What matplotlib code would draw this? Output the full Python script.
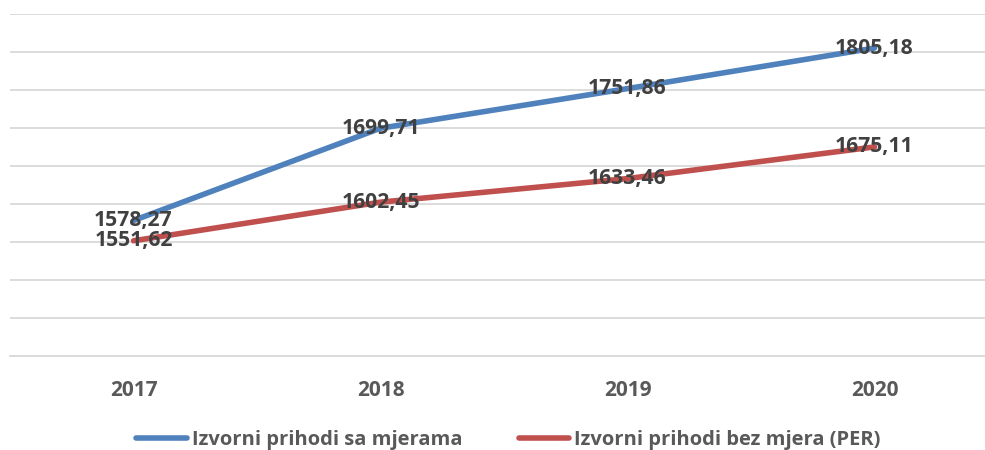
import matplotlib.pyplot as plt

godine = ["2017", "2018", "2019", "2020"]
sa_mjerama = [1578.27, 1699.71, 1751.86, 1805.18]
bez_mjera = [1551.62, 1602.45, 1633.46, 1675.11]

plt.rcParams['font.family'] = ['Open Sans', 'DejaVu Sans']

fig = plt.figure(figsize=(9.85, 4.5), dpi=100)
ax = fig.add_axes([10 / 985, 94 / 450, 988 / 985, 342 / 450])

x = range(len(godine))
ax.plot(x, sa_mjerama, color="#4f81bd", lw=4, solid_capstyle="round",
        label="Izvorni prihodi sa mjerama", zorder=3)
ax.plot(x, bez_mjera, color="#c0504d", lw=4, solid_capstyle="round",
        label="Izvorni prihodi bez mjera (PER)", zorder=3)

def fmt(v):
    return f"{v:.2f}".replace(".", ",")

for i, v in enumerate(sa_mjerama):
    ax.text(i, v, fmt(v), ha="center", va="center", fontsize=15.2,
            fontweight="bold", color="#404040", zorder=4)
for i, v in enumerate(bez_mjera):
    ax.text(i, v, fmt(v), ha="center", va="center", fontsize=15.2,
            fontweight="bold", color="#404040", zorder=4)

ax.set_xlim(-0.5, 3.5)
ax.set_ylim(1400, 1850)
ax.set_yticks(range(1400, 1851, 50))
ax.yaxis.grid(True, color="#d9d9d9", lw=1.3)
ax.set_axisbelow(True)
ax.tick_params(axis="y", left=False, labelleft=False)
ax.set_xticks(list(x))
ax.set_xticklabels(godine, fontsize=15, fontweight="bold", color="#595959")
ax.tick_params(axis="x", length=0, pad=17)
for s in ["top", "right", "left"]:
    ax.spines[s].set_visible(False)
ax.spines["bottom"].set_color("#d9d9d9")
ax.spines["bottom"].set_linewidth(1.3)

leg = fig.legend(loc="center", bbox_to_anchor=(0.516, 0.022), ncol=2, frameon=False,
                 prop={"size": 14.5, "weight": "bold"}, handlelength=2.5,
                 handletextpad=0.25, columnspacing=2.8)
for t in leg.get_texts():
    t.set_color("#595959")

fig.savefig("out.png", dpi=100)
